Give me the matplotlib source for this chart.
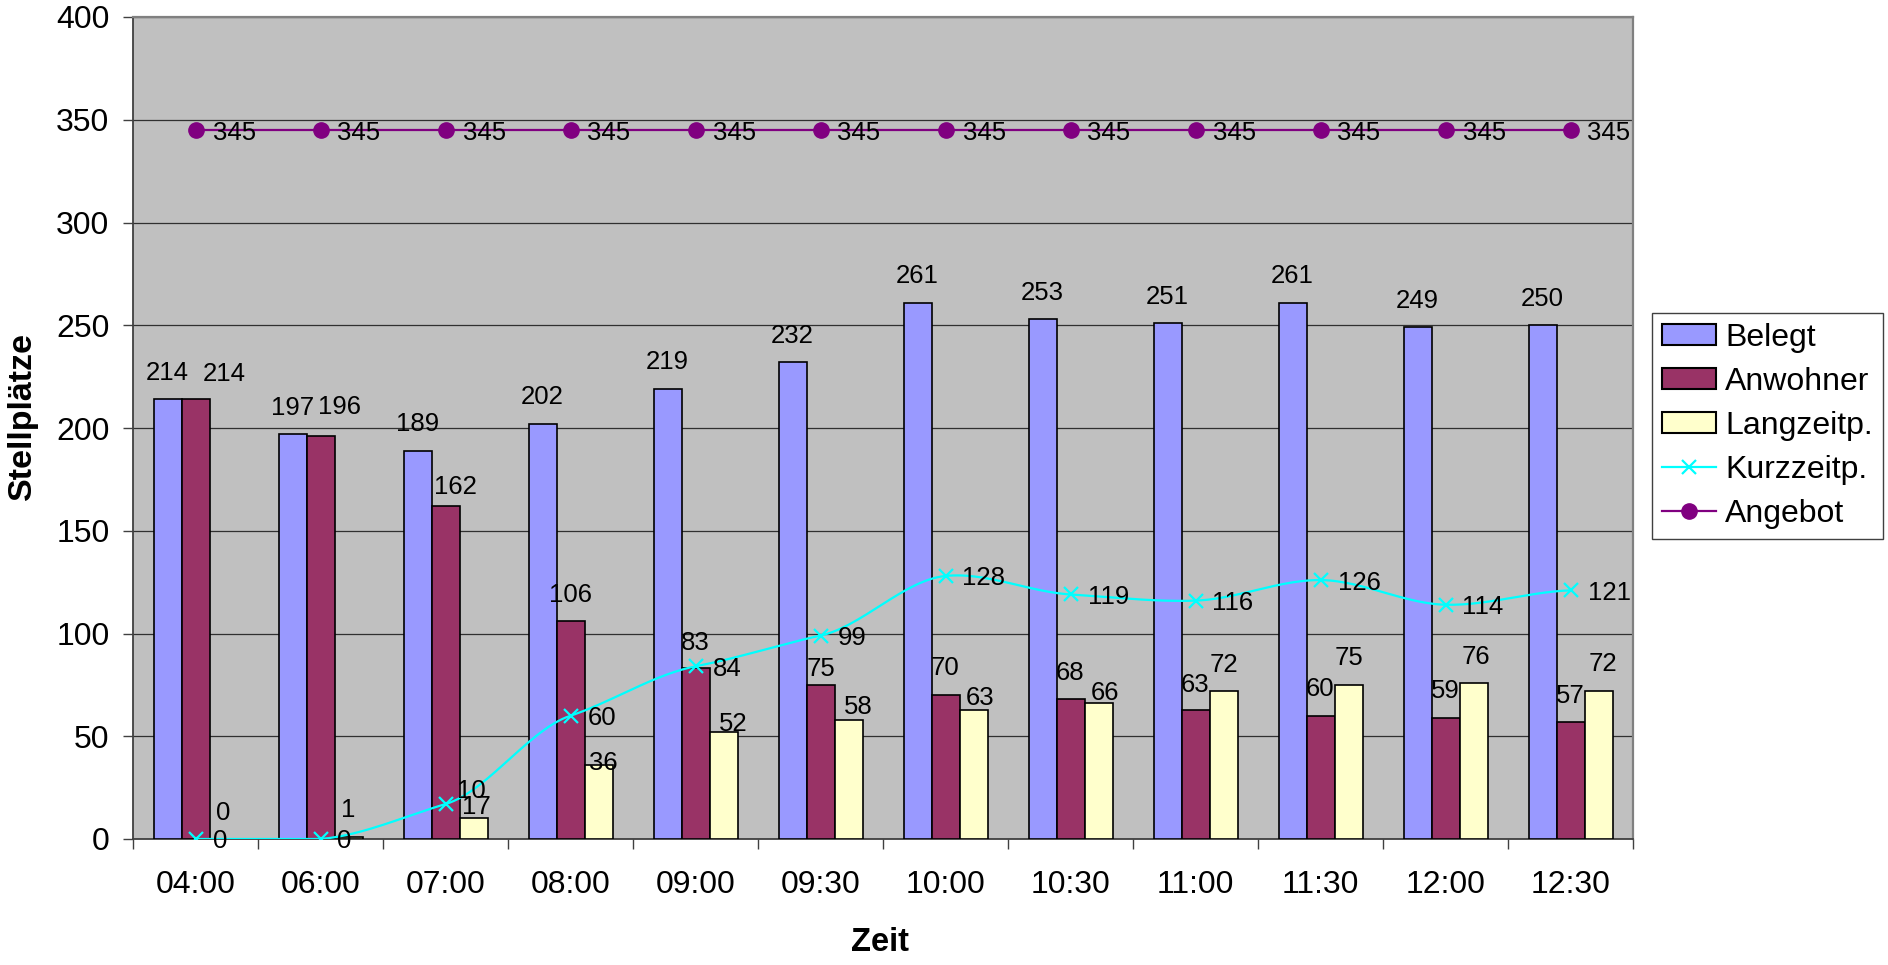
import numpy as np
import matplotlib
matplotlib.use("Agg")
import matplotlib.pyplot as plt
from matplotlib.ticker import FixedLocator, NullFormatter
from matplotlib.lines import Line2D
from matplotlib.patches import Patch

plt.rcParams['font.family'] = ['Liberation Sans', 'DejaVu Sans']

# ---- data ----
categories = ["04:00", "06:00", "07:00", "08:00", "09:00", "09:30",
              "10:00", "10:30", "11:00", "11:30", "12:00", "12:30"]
belegt = [214, 197, 189, 202, 219, 232, 261, 253, 251, 261, 249, 250]
anwohner = [214, 196, 162, 106, 83, 75, 70, 68, 63, 60, 59, 57]
langzeit = [0, 1, 10, 36, 52, 58, 63, 66, 72, 75, 76, 72]
kurzzeit = [0, 0, 17, 60, 84, 99, 128, 119, 116, 126, 114, 121]
angebot = [345] * 12

# ---- label placement (styling, in pixels: horizontal nudge, gap above bar) ----
bel_dx = [0] * 12
bel_gap = [19.5] * 12
anw_dx = [29, 19, 10, 0, 0, 0, 0, 0, 0, 0, 0, 0]
anw_gap = [18, 22, 12, 19, 18, 9, 20, 19, 18, 20, 20, 19]
lang_dx = [0, 0, -2, 5, 10, 10, 7, 7, 0, 0, 2, 4]
lang_gap = [19, 20, 20, -5, 1, 6, 5, 3, 19, 20, 19, 20]

W, H = 1888, 965
PX = 0.72  # points per pixel at dpi 100
fig = plt.figure(figsize=(W / 100, H / 100), dpi=100)
L, R, T, B = 133, 1633, 17, 839
ax = fig.add_axes([L / W, 1 - B / H, (R - L) / W, (B - T) / H])
ax.set_facecolor('#C0C0C0')

x = np.arange(len(categories))
bw = 0.224
c_bel, c_anw, c_lang = '#9999FF', '#993366', '#FFFFCC'
ax.bar(x - bw, belegt, bw, color=c_bel, edgecolor='black', linewidth=1.2, label='Belegt', zorder=3)
ax.bar(x, anwohner, bw, color=c_anw, edgecolor='black', linewidth=1.2, label='Anwohner', zorder=3)
ax.bar(x + bw, langzeit, bw, color=c_lang, edgecolor='black', linewidth=1.2, label='Langzeitp.', zorder=3)


def smooth(xs, ys, n=30, tension=0.6):
    """Cardinal-spline smoothing through the data points (like Excel's smoothed line)."""
    xs = np.asarray(xs, float); ys = np.asarray(ys, float)
    px, py = [], []
    N = len(xs)
    for i in range(N - 1):
        y0 = ys[i - 1] if i > 0 else ys[i]
        y3 = ys[i + 2] if i + 2 < N else ys[i + 1]
        m1 = tension * (ys[i + 1] - y0) / 2
        m2 = tension * (y3 - ys[i]) / 2
        t = np.linspace(0, 1, n, endpoint=(i == N - 2))
        h00 = 2 * t**3 - 3 * t**2 + 1
        h10 = t**3 - 2 * t**2 + t
        h01 = -2 * t**3 + 3 * t**2
        h11 = t**3 - t**2
        px.append(xs[i] + t * (xs[i + 1] - xs[i]))
        py.append(h00 * ys[i] + h10 * m1 + h01 * ys[i + 1] + h11 * m2)
    return np.concatenate(px), np.concatenate(py)


sx, sy = smooth(x, kurzzeit)
ax.plot(sx, np.maximum(sy, 0), color='#00FFFF', lw=1.6, zorder=4)
ax.plot(x, kurzzeit, ls='none', marker='x', ms=10.5, mew=1.6, color='#00FFFF', zorder=5)
ax.plot(x, angebot, color='#800080', lw=1.6, marker='o', ms=11, zorder=5)

lab_fs = 18.5
for xi, v, dx, g in zip(x, belegt, bel_dx, bel_gap):
    ax.annotate(str(v), (xi - bw, v), xytext=(dx * PX, g * PX), textcoords='offset points',
                ha='center', va='baseline', fontsize=lab_fs, zorder=6)
for xi, v, dx, g in zip(x, anwohner, anw_dx, anw_gap):
    ax.annotate(str(v), (xi, v), xytext=(dx * PX, g * PX), textcoords='offset points',
                ha='center', va='baseline', fontsize=lab_fs, zorder=6)
for xi, v, dx, g in zip(x, langzeit, lang_dx, lang_gap):
    ax.annotate(str(v), (xi + bw, v), xytext=(dx * PX, g * PX), textcoords='offset points',
                ha='center', va='baseline', fontsize=lab_fs, zorder=6)
for xi, v in zip(x, kurzzeit):
    ax.annotate(str(v), (xi, v), xytext=(17 * PX, 0), textcoords='offset points',
                ha='left', va='center_baseline', fontsize=lab_fs, zorder=6)
for xi, v in zip(x, angebot):
    ax.annotate(str(v), (xi, v), xytext=(17 * PX, 0), textcoords='offset points',
                ha='left', va='center_baseline', fontsize=lab_fs, zorder=6)

ax.set_xlim(-0.5, len(categories) - 0.5)
ax.set_ylim(0, 400)
ax.set_yticks(np.arange(0, 401, 50))
ax.yaxis.grid(True, color='#303030', lw=0.9, zorder=1)
ax.set_axisbelow(True)

ax.set_xticks(x)
ax.set_xticklabels(categories)
ax.xaxis.set_minor_locator(FixedLocator(np.arange(-0.5, len(categories), 1.0)))
ax.xaxis.set_minor_formatter(NullFormatter())
ax.tick_params(axis='x', which='major', length=0, pad=22, labelsize=23)
ax.tick_params(axis='x', which='minor', length=7, width=1, color='#404040', direction='out')
ax.tick_params(axis='y', length=7, width=1, color='#404040', direction='out', pad=10, labelsize=23)

for s in ['left', 'bottom']:
    ax.spines[s].set_color('#404040'); ax.spines[s].set_linewidth(1.3)
for s in ['top', 'right']:
    ax.spines[s].set_color('#808080'); ax.spines[s].set_linewidth(1.6)

ax.set_xlabel('Zeit', fontsize=23.5, fontweight='bold')
ax.xaxis.label.set_va('center')
ax.xaxis.set_label_coords((880 - L) / (R - L), -(942.5 - B) / (B - T))
ax.set_ylabel('Stellplätze', fontsize=24.5, fontweight='bold')
ax.yaxis.label.set_va('center'); ax.yaxis.label.set_ha('center')
ax.yaxis.set_label_coords(-(L - 22) / (R - L), (B - 416) / (B - T))

handles = [Patch(facecolor=c_bel, edgecolor='black', lw=1.5),
           Patch(facecolor=c_anw, edgecolor='black', lw=1.5),
           Patch(facecolor=c_lang, edgecolor='black', lw=1.5),
           Line2D([], [], color='#00FFFF', lw=1.6, marker='x', ms=10.5, mew=1.6),
           Line2D([], [], color='#800080', lw=1.6, marker='o', ms=11)]
labels = ['Belegt', 'Anwohner', 'Langzeitp.', 'Kurzzeitp.', 'Angebot']
leg_fs = 23
em = leg_fs / PX
leg = fig.legend(handles, labels, loc='upper left', bbox_to_anchor=(1652 / W, 1 - 313 / H),
                 fontsize=leg_fs, frameon=True, fancybox=False, framealpha=1,
                 edgecolor='#404040', handlelength=54 / em, handleheight=20 / em,
                 handletextpad=9 / em, labelspacing=14 / em, borderpad=10 / em, borderaxespad=0)
leg.get_frame().set_linewidth(1.0)

fig.savefig('out.png', dpi=100, facecolor='white')
